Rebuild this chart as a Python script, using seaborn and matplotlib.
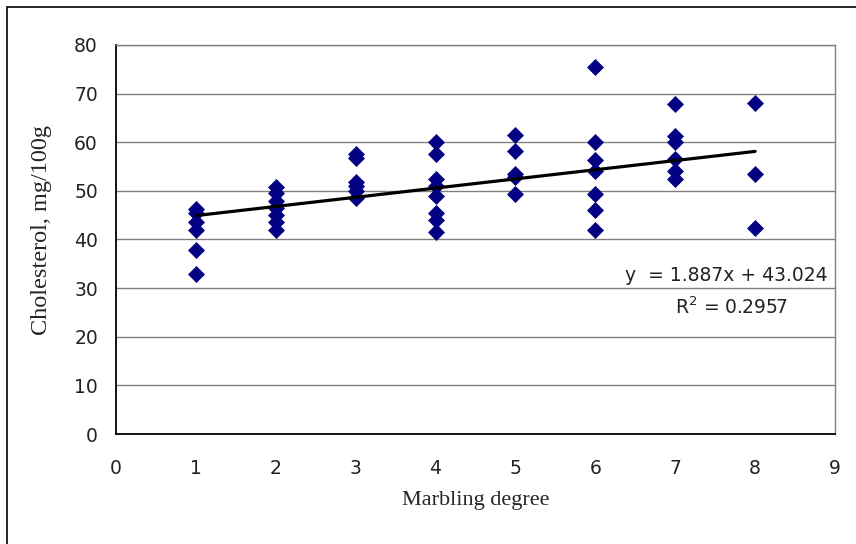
import numpy as np
import pandas as pd
import matplotlib
matplotlib.use("Agg")
import matplotlib.pyplot as plt
import seaborn as sns

# ---- data ----
x1 = [46.3, 45.5, 43.5, 42.0, 37.8, 33.0]
x2 = [50.8, 49.5, 48.0, 46.5, 45.0, 43.5, 42.0]
x3 = [57.5, 56.8, 51.8, 51.0, 50.0, 48.5]
x4 = [60.0, 57.5, 52.5, 51.0, 49.0, 45.5, 44.0, 41.5]
x5 = [61.5, 58.3, 53.5, 52.8, 49.3]
x6 = [75.5, 60.0, 56.3, 54.0, 49.3, 46.0, 42.0]
x7 = [67.8, 61.2, 60.0, 56.5, 54.0, 52.5]
x8 = [68.0, 53.4, 42.3]
groups = [x1, x2, x3, x4, x5, x6, x7, x8]
slope = 1.887
intercept = 43.024
r2 = 0.2957
xticks = list(range(0, 10))
yticks = list(range(0, 90, 10))

rows = []
for i, g in enumerate(groups, start=1):
    for v in g:
        rows.append({"Marbling": i, "Cholesterol": v})
df = pd.DataFrame(rows)

sns.set_style("white")
fig = plt.figure(figsize=(8.56, 5.44), dpi=100)
ax = fig.add_axes([116/856, 1 - 434/544, (835-116)/856, (434-45)/544])

# outer border (only top/left visible in reference)
fig.patches.append(plt.Rectangle((7/856, -0.1), 1.2, 1 - 7/544 + 0.1, transform=fig.transFigure,
                                 fill=False, edgecolor="black", linewidth=1.2))

for yv in yticks[1:]:
    ax.axhline(yv, color="#808080", linewidth=1.0, zorder=0)

sns.scatterplot(data=df, x="Marbling", y="Cholesterol", marker="D", s=75,
                color="#000080", edgecolor="#000080", linewidth=0, ax=ax, zorder=3)

xl = np.array([1, 8])
ax.plot(xl, slope * xl + intercept, color="black", linewidth=2.3, zorder=4)

ax.set_xlim(0, 9)
ax.set_ylim(0, 80)
ax.set_xticks(xticks)
ax.set_yticks(yticks)
ax.tick_params(axis="both", labelsize=13.5, length=4, width=1, direction="out",
               colors="black")
for lab in ax.get_xticklabels() + ax.get_yticklabels():
    lab.set_color("#222222")
ax.tick_params(axis="x", pad=14)
ax.tick_params(axis="y", pad=9)
for side in ["left", "bottom"]:
    ax.spines[side].set_color("black")
    ax.spines[side].set_linewidth(1.3)
for side in ["top", "right"]:
    ax.spines[side].set_color("#808080")
    ax.spines[side].set_linewidth(1.0)

ax.set_xlabel("Marbling degree", family="Liberation Serif", fontsize=16)
ax.set_ylabel("Cholesterol, mg/100g", family="Liberation Serif", fontsize=17.5)
ax.yaxis.set_label_coords((52 - 116) / (835 - 116), (434 - 230) / (434 - 45))
ax.xaxis.set_label_coords((476 - 116) / (835 - 116), -(491 - 434) / (434 - 45))

ax.text(8.91, 32.5, f"y  = {slope}x + {intercept}", ha="right", va="center", fontsize=13.5,
        color="#222222")
ax.text(7.70, 26.1, f"R$^2$ = {r2}", ha="center", va="center", fontsize=13.5, color="#222222")

fig.savefig("out.png", dpi=100)
